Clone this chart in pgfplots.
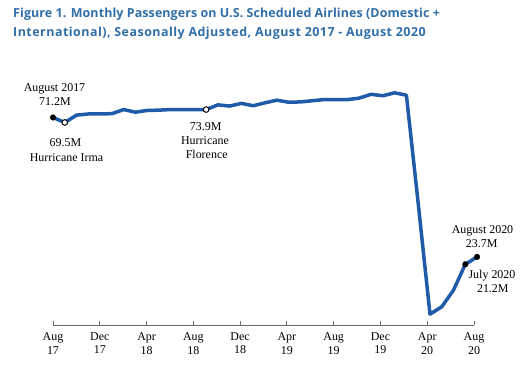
\documentclass[border=0pt]{standalone}
\usepackage{fontspec}
\setmainfont{Liberation Serif}
\newfontfamily\titlefont{Open Sans}[LetterSpace=0.8]
\newfontfamily\titlefontwide{Open Sans}[LetterSpace=3.9]
\usepackage{pgfplots}
\pgfplotsset{compat=1.18}
\definecolor{titleblue}{HTML}{2F6EA8}
\definecolor{lineblue}{HTML}{1F5BA8}
\definecolor{axisgray}{HTML}{6A6A6A}
\begin{document}
\begin{tikzpicture}
\path[use as bounding box] (0bp,0bp) rectangle (526bp,-370bp);
\begin{axis}[
  at={(53bp,-325bp)}, anchor=south west,
  scale only axis, width=421bp, height=249.5bp,
  xmin=0, xmax=36, ymin=0.5, ymax=85.5,
  clip=false,
  axis x line*=bottom, axis y line=none,
  axis line style={axisgray, line width=0.8bp, -},
  xtick={0,4,...,36},
  xticklabels={Aug\\17,Dec\\17,Apr\\18,Aug\\18,Dec\\18,Apr\\19,Aug\\19,Dec\\19,Apr\\20,Aug\\20},
  xticklabel style={align=center, font=\fontsize{12}{14}\selectfont, inner sep=1bp, yshift=-6bp},
  tick align=inside, major tick length=4bp,
  tick style={axisgray, line width=0.8bp},
  ytick=\empty,
]
\addplot[lineblue, line width=3.5bp, line join=round] coordinates {
(0,71.2) (1.007,69.5) (2.015,72.0) (3.022,72.4) (4.029,72.4) (5.037,72.5) (6.044,73.9) (7.051,73.0) (8.059,73.6) (9.066,73.7) (10.073,73.9) (11.081,73.9) (12.088,73.9)
(13.095,73.9) (14.103,75.5) (15.110,75.1) (16.117,76.0) (17.125,75.2) (18.132,76.2) (19.139,77.1) (20.147,76.4) (21.154,76.5) (22.161,76.9) (23.169,77.3) (24.176,77.3)
(25.183,77.3) (26.191,77.8) (27.198,79.1) (28.205,78.6) (29.213,79.6) (30.220,78.8) (31.227,42.0) (32.235,4.2) (33.242,6.7) (34.249,12.4) (35.257,21.2) (36.264,23.7)
};
\addplot[only marks, mark=*, mark size=2.8bp, mark options={fill=black, draw=black}] coordinates {(0,71.2) (35.257,21.2) (36.264,23.7)};
\addplot[only marks, mark=*, mark size=2.8bp, mark options={fill=white, draw=black, line width=1bp}] coordinates {(1.007,69.5) (13.095,73.9)};
\end{axis}
\node[anchor=base west, inner sep=0, text=titleblue, font=\titlefont\bfseries\fontsize{12.5}{18}\selectfont] at (13bp,-17.3bp) {Figure 1. Monthly Passengers on U.S. Scheduled Airlines (Domestic +};
\node[anchor=base west, inner sep=0, text=titleblue, font=\titlefontwide\bfseries\fontsize{12.5}{18}\selectfont] at (13bp,-36bp) {International), Seasonally Adjusted, August 2017 - August 2020};
\begin{scope}[every node/.style={anchor=base, inner sep=0, font=\fontsize{12}{14}\selectfont}]
\node at (54.5bp,-91.2bp) {August 2017};
\node at (55bp,-105.5bp) {71.2M};
\node at (65.5bp,-146bp) {69.5M};
\node at (66.5bp,-161.5bp) {Hurricane Irma};
\node at (205.7bp,-130bp) {73.9M};
\node at (205bp,-144bp) {Hurricane};
\node at (206.7bp,-158.3bp) {Florence};
\node at (482.5bp,-233bp) {August 2020};
\node at (481.7bp,-247.7bp) {23.7M};
\node at (492bp,-278bp) {July 2020};
\node at (492.8bp,-292.7bp) {21.2M};
\end{scope}
\end{tikzpicture}
\end{document}
